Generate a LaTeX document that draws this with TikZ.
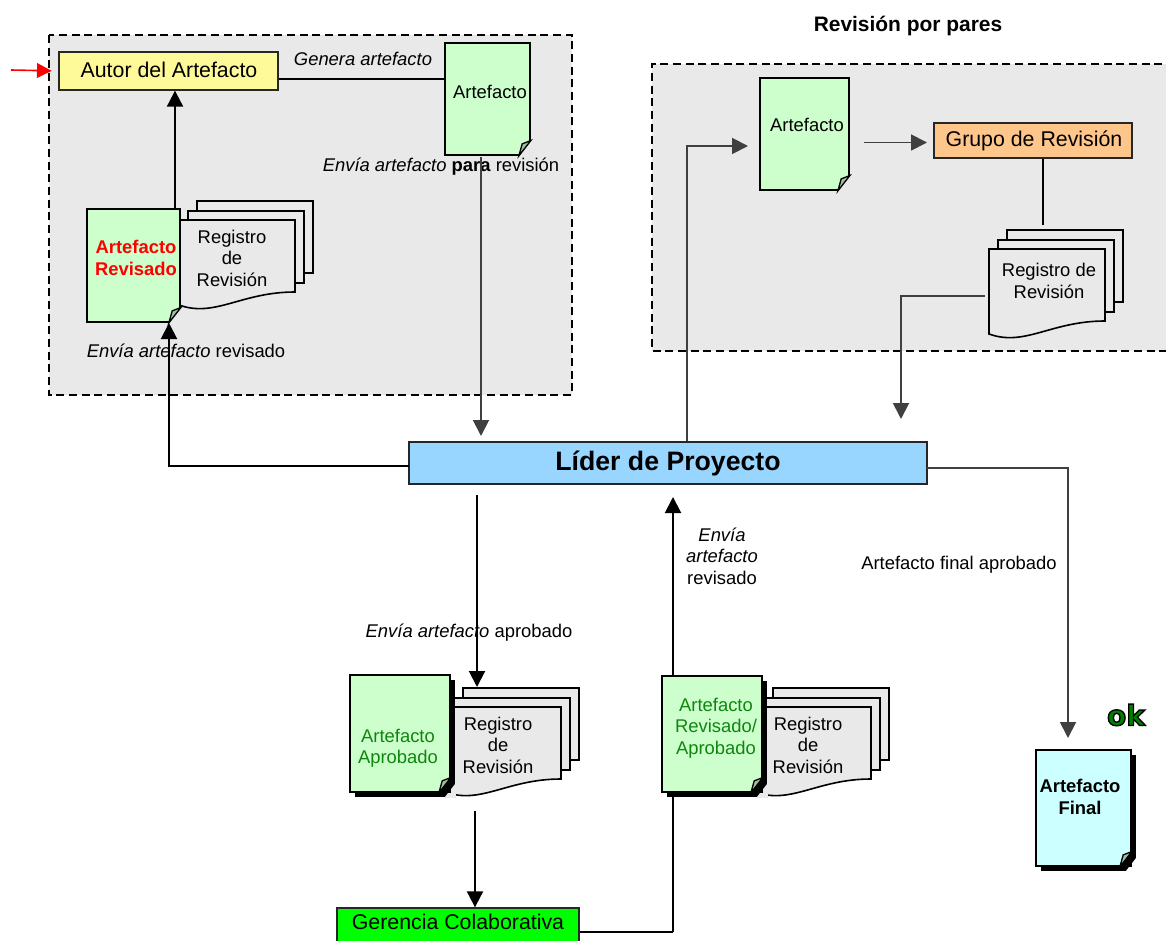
\documentclass[tikz,border=0pt]{standalone}
\usepackage{fontspec}
\setmainfont{Liberation Sans}
\newfontfamily\okfont{DejaVu Sans}
\usetikzlibrary{arrows.meta,fit,shadows}
\definecolor{panelgray}{HTML}{E9E9E9}
\definecolor{pagegreen}{HTML}{CCFFCC}
\definecolor{pagecyan}{HTML}{CCFFFF}
\definecolor{foldgray}{HTML}{A5BFA5}
\definecolor{darkline}{HTML}{404040}
\definecolor{textgreen}{HTML}{0E860E}
\tikzset{
    txt/.style={font=\fontsize{13.8}{16.1}\selectfont,align=center,inner sep=0pt},
    bigtxt/.style={font=\fontsize{16}{19}\selectfont,align=center,inner sep=0pt},
    panel/.style={draw=black,fill=panelgray,dashed,dash pattern=on 6pt off 3.5pt,line width=1.1pt},
    boxnode/.style={draw=black!85,line width=1pt,inner sep=0pt},
    pagebox/.style={draw=black,line width=1.3pt,inner sep=0pt},
    sheet/.style={draw=black,fill=panelgray,line width=1.2pt,inner sep=0pt},
    pageshadow/.style={drop shadow={shadow xshift=3.6pt,shadow yshift=-3.6pt,opacity=1,fill=black}},
    blackline/.style={draw=black,line width=1.5pt},
    grayline/.style={draw=darkline,line width=1.4pt},
    blackarrow/.style={blackline,-{Triangle[length=12pt,width=12pt]}},
    grayarrow/.style={grayline,-{Triangle[length=12pt,width=12pt]}}
}
% fold at the lower right corner of a page
\newcommand{\foldcorner}[2]{
    \fill[#2] ([yshift=11.5pt]#1.south east) -- (#1.south east) -- ([xshift=-9pt]#1.south east) -- cycle;
    \filldraw[fill=foldgray,draw=black,line width=1pt] ([yshift=11.5pt]#1.south east) -- ([xshift=-9pt]#1.south east) -- ([xshift=-6.5pt,yshift=9pt]#1.south east) -- cycle;
}
% same, for a page with a shadow
\newcommand{\shadowcorner}[2]{
    \fill[#2] ([xshift=3.8pt,yshift=7.5pt]#1.south east) -- ([xshift=3.8pt,yshift=-3.8pt]#1.south east) -- ([xshift=-5pt,yshift=-3.8pt]#1.south east) -- cycle;
    \foldcorner{#1}{black}
}
% three sheets, #1 is the upper left corner of the front one
\newcommand{\regstack}[1]{
    \begin{scope}[shift={#1}]
        \draw[sheet] (18,-19) rectangle (134,53);
        \draw[sheet] (9,-9) rectangle (125,63);
        \draw[sheet] (0,0) -- (116,0) -- (116,72) .. controls (62,72) and (36,98) .. (0,85) -- cycle;
    \end{scope}
}
\begin{document}
\begin{tikzpicture}[x=0.75pt,y=-0.75pt]
    \useasboundingbox (0,0) rectangle (1166,941);

    \draw[panel] (49,35) rectangle (572,395);
    \draw[panel] (1175,64) -- (652,64) -- (652,351) -- (1175,351);

    \node[bigtxt] (revpares) at (908,26) {\fontsize{15.7}{19}\selectfont\textbf{Revisión por pares}};

    \node[boxnode,fill=yellow!40!white,fit={(59,52) (278,90)}] (autor) {};
    \node[bigtxt] (autortxt) at (169,70) {Autor del Artefacto};

    \node[pagebox,fill=pagegreen,fit={(445,43) (530,155)}] (artefactoa) {};
    \foldcorner{artefactoa}{panelgray}
    \node[txt] (artefactoatxt) at (490,92) {Artefacto};

    \regstack{(179,220)}
    \node[txt] (registroa) at (232,258) {Registro\\de\\Revisión};
    \node[pagebox,fill=pagegreen,fit={(87,209) (180,322)}] (revisado) {};
    \foldcorner{revisado}{panelgray}
    \node[txt,text=red] (revisadotxt) at (136,258) {\textbf{Artefacto}\\\textbf{Revisado}};

    \node[boxnode,fill=blue!40!cyan!40!white,fit={(409,442) (927,484)}] (lider) {};
    \node[bigtxt] (lidertxt) at (668,463) {\fontsize{20}{24}\selectfont\textbf{Líder de Proyecto}};

    \node[pagebox,fill=pagegreen,fit={(760,78) (849,190)}] (artefactob) {};
    \foldcorner{artefactob}{panelgray}
    \node[txt] (artefactobtxt) at (807,125) {Artefacto};

    \node[boxnode,fill=orange!45!white,fit={(934,123) (1132,158)}] (grupo) {};
    \node[bigtxt] (grupotxt) at (1034,141) {Grupo de Revisión};

    \regstack{(989,249)}
    \node[txt] (registrob) at (1049,281) {Registro de\\Revisión};

    \node[boxnode,fill=green,fit={(337,908) (579,950)}] (gerencia) {};
    \node[bigtxt] (gerenciatxt) at (458,922) {Gerencia Colaborativa};

    \coordinate (iniciored) at (11,70);
    \coordinate (subida) at (673,932);
    \coordinate (subidaend) at (673,497);

    % this line passes behind the page
    \draw[blackline] (gerencia.east |- subida) -- (subida);
    \draw[blackarrow] (subida) -- (subidaend);

    \regstack{(445,707)}
    \node[txt] (registroc) at (498,745) {Registro\\de\\Revisión};
    \node[pagebox,fill=pagegreen,pageshadow,fit={(350,675) (450,792)}] (aprobado) {};
    \shadowcorner{aprobado}{panelgray}
    \node[txt,text=textgreen] (aprobadotxt) at (398,748) {Artefacto\\Aprobado};

    \regstack{(755,707)}
    \node[txt] (registrod) at (808,745) {Registro\\de\\Revisión};
    \node[pagebox,fill=pagegreen,pageshadow,fit={(662,676) (762,792)}] (revaprobado) {};
    \shadowcorner{revaprobado}{panelgray}
    \node[txt,text=textgreen] (revaprobadotxt) at (716,728) {Artefacto\\Revisado/\\Aprobado};

    \node[pagebox,fill=pagecyan,pageshadow,fit={(1036,750) (1131,866)}] (final) {};
    \shadowcorner{final}{white}
    \node[txt] (finaltxt) at (1080,797) {\textbf{Artefacto}\\\textbf{Final}};

    \node[inner sep=0pt] (oktxt) at (1126,715) {\okfont\fontsize{21}{24}\selectfont\bfseries\special{pdf:code q 2 Tr 1 w 0 0 0 RG 0 0.5 0 rg}ok\special{pdf:code Q}};

    \node[txt] (genera) at (363,59) {\textit{Genera artefacto}};
    \node[txt] (enviaa) at (441,167) {\textit{Envía artefacto} \textbf{para} revisión};
    \node[txt] (enviab) at (186,351) {\textit{Envía artefacto} revisado};
    \node[txt] (enviac) at (469,633) {\textit{Envía artefacto} aprobado};
    \node[txt] (enviad) at (722,556) {\textit{Envía}\\\textit{artefacto}\\revisado};
    \node[txt] (finalap) at (959,565) {Artefacto final aprobado};

    % free ends of the connectors
    \coordinate (generaend) at (445,79);
    \coordinate (paraini) at (481,157);
    \coordinate (paraend) at (481,436);
    \coordinate (vueltaend) at (169,323);
    \coordinate (vueltaini) at (409,466);
    \coordinate (autorcol) at (175,90);
    \coordinate (subeart) at (748,146);
    \coordinate (subeini) at (687,441);
    \coordinate (grupoini) at (864,142.5);
    \coordinate (grupoend) at (927,142.5);
    \coordinate (grupocol) at (1043,225);
    \coordinate (regini) at (985,296);
    \coordinate (regend) at (901,419);
    \coordinate (finalini) at (927,468);
    \coordinate (finalend) at (1068,738);
    \coordinate (bajaini) at (477,495);
    \coordinate (bajaend) at (477,687);
    \coordinate (gerini) at (475,811);

    \draw[draw=red,line width=1.2pt,-{Triangle[length=11pt,width=11pt]},shorten >=5pt] (iniciored) -- (autor.west);
    \draw[blackline] (autor.east |- generaend) -- (generaend);
    \draw[blackarrow] (revisado.north -| autorcol) -- (autor.south -| autorcol);
    \draw[grayarrow] (paraini) -- (paraend);
    \draw[blackarrow] (vueltaini) -| (vueltaend);
    \draw[grayarrow] (subeini) |- (subeart);
    \draw[grayarrow] (grupoini) -- (grupoend);
    \draw[blackline] (grupo.south -| grupocol) -- (grupocol);
    \draw[grayarrow] (regini) -| (regend);
    \draw[grayarrow] (finalini) -| (finalend);
    \draw[blackarrow] (bajaini) -- (bajaend);
    \draw[blackarrow] (gerini) -- (gerencia.north -| gerini);
\end{tikzpicture}
\end{document}
